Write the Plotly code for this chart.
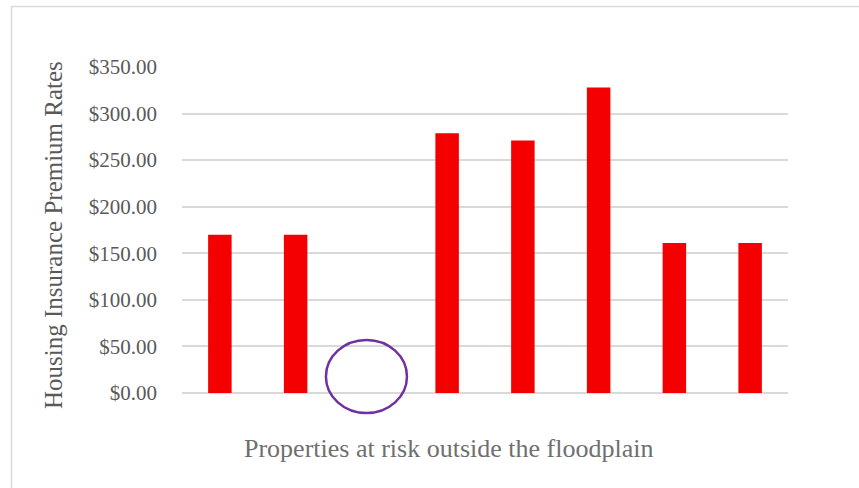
import plotly.graph_objects as go

# Premium rates for the eight properties outside the floodplain
categories = ["1", "2", "3", "4", "5", "6", "7", "8"]
premiums = [170, 170, 0, 279, 271, 328, 161, 161]
tick_values = [0, 50, 100, 150, 200, 250, 300, 350]
tick_labels = ["$0.00", "$50.00", "$100.00", "$150.00", "$200.00",
               "$250.00", "$300.00", "$350.00"]

FONT = "Liberation Serif, Times New Roman, serif"
GREY = "#595959"
TITLE_GREY = "#6F6F6F"

fig = go.Figure(
    go.Bar(
        x=categories,
        y=premiums,
        marker=dict(color="#F40000", line=dict(width=0)),
        hoverinfo="x+y",
    )
)

fig.update_layout(
    width=859,
    height=488,
    margin=dict(l=182, r=71, t=67, b=95),
    paper_bgcolor="white",
    plot_bgcolor="white",
    bargap=0.69,
    showlegend=False,
    font=dict(family=FONT, color=GREY),
    xaxis=dict(
        showticklabels=False,
        showgrid=False,
        zeroline=False,
        showline=False,
        ticks="",
    ),
    yaxis=dict(
        range=[0, 350],
        tickvals=tick_values,
        ticktext=tick_labels,
        tickfont=dict(family=FONT, size=21, color=GREY),
        ticklabelstandoff=24,
        showgrid=True,
        gridcolor="#D9D9D9",
        gridwidth=1.5,
        zeroline=True,
        zerolinecolor="#D9D9D9",
        zerolinewidth=1.5,
        showline=False,
        ticks="",
    ),
    annotations=[
        dict(
            text="Housing Insurance Premium Rates",
            xref="paper", yref="paper",
            x=(53 - 182) / 606, y=(393 - 235) / 326,
            xanchor="center", yanchor="middle",
            textangle=-90, showarrow=False,
            font=dict(family=FONT, size=25, color=GREY),
        ),
        dict(
            text="Properties at risk outside the floodplain",
            xref="paper", yref="paper",
            x=(448 - 182) / 606, y=(393 - 448) / 326,
            xanchor="center", yanchor="middle",
            showarrow=False,
            font=dict(family=FONT, size=26, color=TITLE_GREY),
        ),
    ],
    shapes=[
        # chart frame
        dict(
            type="rect", xref="paper", yref="paper",
            x0=(11.5 - 182) / 606, x1=1.2,
            y0=-0.4, y1=(393 - 6.5) / 326,
            line=dict(color="#D9D9D9", width=1.5),
            fillcolor="rgba(0,0,0,0)", layer="below",
        ),
        # highlight around the empty third category
        dict(
            type="circle", xref="x", yref="paper",
            x0=1.40, x1=2.47,
            y0=-21.5 / 350, y1=57 / 350,
            line=dict(color="#7030A0", width=2.5),
            fillcolor="rgba(0,0,0,0)",
        ),
    ],
)

fig.write_html("out.html")
